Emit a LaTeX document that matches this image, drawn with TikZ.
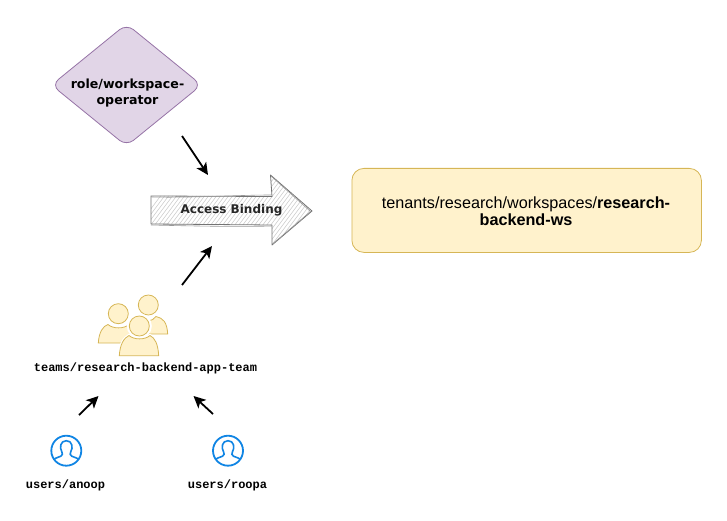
\documentclass[tikz,border=0pt]{standalone}
\usepackage{fontspec}
\setmainfont{Liberation Sans}
\newfontfamily\vfont{DejaVu Sans}
\newfontfamily\cfont{Liberation Mono}
\usetikzlibrary{arrows.meta}
\definecolor{lilac}{HTML}{E1D5E7}
\definecolor{lilacline}{HTML}{9673A6}
\definecolor{cream}{HTML}{FFF2CC}
\definecolor{creamline}{HTML}{D6B656}
\definecolor{userblue}{HTML}{1085E4}
\tikzset{
  conn/.style={black,line width=1.8pt,-{Stealth[length=12pt,width=11.5pt,inset=3pt]}},
  codelabel/.style={font=\cfont\bfseries\fontsize{12}{13}\selectfont,text=black,inner sep=0pt},
  person/.style={fill=cream,draw=creamline,line width=0.8pt},
  halo/.style={fill=white,draw=white,line width=3pt},
  userline/.style={draw=userblue,line width=1.6pt},
}
\newcommand{\usericon}[3]{%
  \begin{scope}[shift={(#1,#2)}]
    \node[circle,draw=userblue,line width=1.8pt,minimum size=30pt,inner sep=0pt,fill=white] (#3) at (0,0) {};
    \clip (0,0) circle (15pt);
    \draw[userline,line join=round] (-15,12) .. controls (-12,7) and (-9,7) .. (-5.5,5.5)
      .. controls (-3.5,4.5) and (-3.5,3) .. (-4.5,1)
      .. controls (-7,-3) and (-6,-10) .. (0,-10)
      .. controls (6,-10) and (7,-3) .. (4.5,1)
      .. controls (3.5,3) and (3.5,4.5) .. (5.5,5.5)
      .. controls (9,7) and (12,7) .. (15,12);
  \end{scope}}
\begin{document}
\begin{tikzpicture}[x=1pt,y=-1pt]
\useasboundingbox (0,0) rectangle (727,521);
% diamond
\draw[fill=lilac,draw=lilacline,line width=0.8pt,rounded corners=9pt]
  (126.5,24) -- (201.5,85) -- (126.5,146) -- (51.5,85) -- cycle;
\node[font=\vfont\bfseries\fontsize{12.6}{16}\selectfont,align=center,text=black,inner sep=0pt] (role) at (127.5,93) {role/workspace-\\operator};
% block arrow
\begin{scope}
  \clip (151,196) -- (272,196) -- (270,175) -- (312,211) -- (272,245) -- (272,225) -- (151,224) -- cycle;
  \foreach \i in {0,4,...,200} {
    \draw[gray!45,line width=0.5pt] (120+\i,250) -- (120+\i+60,170);
  }
\end{scope}
\draw[draw=black!55,line width=0.8pt,line join=round]
  (151,196) -- (272,196.5) -- (270.5,175) -- (312,211) -- (272,245) -- (272,225) -- (151,224) -- cycle;
\draw[draw=black!40,line width=0.6pt,line join=round]
  (151.5,197) .. controls (190,198) and (240,195) .. (271,195)
  (151,225) .. controls (190,226) and (240,227) .. (272,226)
  (271,176) -- (310.5,211.5) -- (272.5,244);
\node[font=\vfont\bfseries\fontsize{12}{14}\selectfont,text=black!85,inner sep=0pt] (binding) at (231.5,210) {Access Binding};
% target box
\node[rectangle,rounded corners=12pt,fill=cream,draw=creamline,line width=0.8pt,minimum width=349.5pt,minimum height=84pt,inner sep=0pt,anchor=north west] (ws) at (351.5,168) {};
\node[font=\fontsize{16.2}{17}\selectfont,align=center,text=black,inner sep=0pt] (wstext) at (526,211) {tenants/research/workspaces/\textbf{research-}\\\textbf{backend-ws}};
% team icon
\draw[person] (148.3,305) circle (10);
\draw[person] (128,334) .. controls (130,324) and (136,321) .. (141,319) .. controls (145,322) and (152,322) .. (156,316.5) .. controls (163,318) and (167,322) .. (167.7,334) -- cycle;
\draw[person] (118.3,313.7) circle (10);
\draw[person] (98.3,343) .. controls (99,332) and (103,326) .. (108,324.5) .. controls (113,329) and (124,329) .. (129,324.5) .. controls (134,326) and (138,332) .. (139,343) -- cycle;
\draw[halo] (139.3,326) circle (11);
\draw[person] (139.3,326) circle (10);
\draw[halo] (119.3,355.7) .. controls (120,344) and (124,338) .. (129,335.5) .. controls (134,340) and (145,340) .. (150,335.5) .. controls (155,338) and (158,344) .. (158.7,355.7) -- cycle;
\draw[person] (119.3,355.7) .. controls (120,344) and (124,338) .. (129,335.5) .. controls (134,340) and (145,340) .. (150,335.5) .. controls (155,338) and (158,344) .. (158.7,355.7) -- cycle;
\node[codelabel] (team) at (145.5,368) {teams/research-backend-app-team};
% users
\usericon{66.3}{450.7}{anoopicon}
\usericon{228}{450.7}{roopaicon}
\node[codelabel] (anoop) at (65.5,485.5) {users/anoop};
\node[codelabel] (roopa) at (227.5,485.5) {users/roopa};
% connector ends
\coordinate (a1) at (182,136); \coordinate (a2) at (208,175);
\coordinate (b1) at (182,285); \coordinate (b2) at (212,246);
\coordinate (c1) at (79,415); \coordinate (c2) at (98.5,396);
\coordinate (d1) at (213,414); \coordinate (d2) at (193.5,396);
\draw[conn] (a1) -- (a2);
\draw[conn] (b1) -- (b2);
\draw[conn] (c1) -- (c2);
\draw[conn] (d1) -- (d2);
\end{tikzpicture}
\end{document}
